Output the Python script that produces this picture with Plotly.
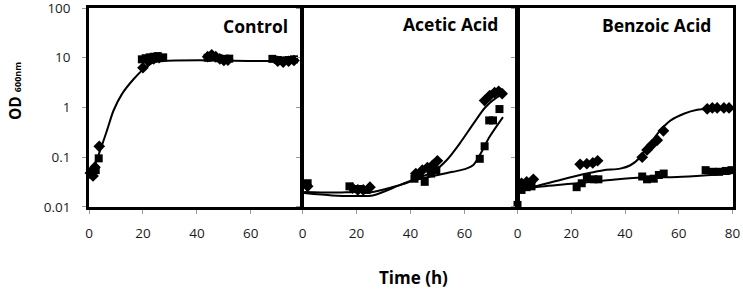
import plotly.graph_objects as go

W, H = 743, 291

# ---------------- data ----------------
# Control
ctrl_sq_t = [0.5, 1.5, 2.5, 3.6, 19.6, 21, 22.5, 24, 25.5, 27.5, 44, 46, 48, 50, 52, 68, 70, 72, 74, 76]
ctrl_sq_od = [0.045, 0.05, 0.055, 0.095, 9.3, 9.8, 10.2, 10.5, 10.8, 10.2, 10.0, 10.3, 9.8, 9.5, 9.6, 9.5, 9.0, 8.8, 9.0, 9.3]
ctrl_di_t = [0.5, 1.5, 2.2, 3.8, 20, 22, 24, 26, 44, 45.5, 47, 48.5, 50, 51.5, 70, 72, 74, 76]
ctrl_di_od = [0.048, 0.042, 0.063, 0.166, 6.3, 8.5, 9.5, 10, 10.5, 11.5, 10.5, 9.5, 8.8, 9.0, 8.5, 8.2, 8.5, 8.8]
ctrl_fit_t = [0.3, 2.3, 4.2, 6.7, 9.1, 12.2, 16.5, 20.2, 24, 28.9, 41, 53.6, 65, 75.8]
ctrl_fit_od = [0.047, 0.074, 0.14, 0.35, 0.87, 1.86, 3.7, 5.9, 8.1, 8.7, 8.9, 8.7, 8.6, 8.5]

# Acetic acid
ac_sq_t = [1.9, 17.4, 19, 21.4, 23.8, 41.5, 43.4, 45.3, 47.7, 49.6, 65.7, 67.5, 69.2, 70.6, 73]
ac_sq_od = [0.030, 0.026, 0.023, 0.023, 0.022, 0.037, 0.044, 0.032, 0.047, 0.055, 0.093, 0.166, 0.55, 0.55, 0.93]
ac_di_t = [1.9, 18.5, 20.5, 22.5, 25, 42, 44.4, 46.3, 48.2, 50, 67.5, 69.4, 71.2, 72.7, 74]
ac_di_od = [0.026, 0.024, 0.022, 0.022, 0.025, 0.047, 0.055, 0.062, 0.069, 0.085, 1.38, 1.74, 2.0, 2.12, 1.9]
ac_fit_di_t = [0.6, 11, 19.8, 26, 36, 42, 48.4, 53.4, 58.3, 63.3, 67.7, 72, 74.5]
ac_fit_di_od = [0.019, 0.017, 0.0166, 0.017, 0.0275, 0.037, 0.051, 0.087, 0.19, 0.47, 1.0, 1.6, 1.86]
ac_fit_sq_t = [0.6, 11, 19.8, 26, 36, 42, 48.4, 55.8, 60.7, 63.2, 65.7, 69.4, 74.3]
ac_fit_sq_od = [0.020, 0.0195, 0.020, 0.020, 0.0275, 0.035, 0.042, 0.051, 0.059, 0.069, 0.11, 0.26, 0.64]

# Benzoic acid
bz_sq_t = [0, 1.5, 3.4, 5.2, 22, 23.9, 25.8, 28.3, 30.1, 46.4, 48.2, 50.7, 52.6, 54.4, 70, 72.5, 75, 77.5, 79.6]
bz_sq_od = [0.011, 0.022, 0.025, 0.026, 0.025, 0.030, 0.039, 0.036, 0.036, 0.041, 0.036, 0.037, 0.044, 0.047, 0.055, 0.051, 0.051, 0.053, 0.055]
bz_di_t = [1.5, 3.4, 5.9, 23.3, 25.8, 28, 29.8, 46.4, 48.2, 50.1, 52, 54.3, 70.6, 72.5, 74.3, 76.8, 78.7]
bz_di_od = [0.030, 0.032, 0.036, 0.072, 0.074, 0.077, 0.085, 0.10, 0.14, 0.18, 0.22, 0.34, 0.94, 0.98, 0.98, 0.98, 0.98]
bz_fit_di_t = [0.3, 6.5, 15.9, 25.8, 32, 38.2, 42, 45.7, 49.4, 53.2, 57, 61.9, 66.9, 71.9, 79.4]
bz_fit_di_od = [0.022, 0.026, 0.035, 0.047, 0.055, 0.059, 0.069, 0.10, 0.19, 0.35, 0.55, 0.75, 0.90, 0.95, 0.97]
bz_fit_sq_t = [0.3, 6.5, 22, 34.5, 47, 59.5, 72, 79.4]
bz_fit_sq_od = [0.022, 0.025, 0.030, 0.035, 0.039, 0.040, 0.044, 0.047]

panel_titles = ["Control", "Acetic Acid", "Benzoic Acid"]
y_tickvals = [0.01, 0.1, 1, 10, 100]
y_ticktext = ["0.01", "0.1", "1", "10", "100"]
x_ticks_1 = [0, 20, 40, 60]
x_ticks_2 = [0, 20, 40, 60]
x_ticks_3 = [0, 20, 40, 60, 80]

# ---------------- figure ----------------
FONT = "Open Sans"
fig = go.Figure()

def markers(t, od, sym, size, xa, ya):
    fig.add_trace(go.Scatter(x=t, y=od, mode="markers", xaxis=xa, yaxis=ya,
                             marker=dict(symbol=sym, size=size, color="black"),
                             cliponaxis=False, showlegend=False, hoverinfo="skip"))

def curve(t, od, xa, ya):
    fig.add_trace(go.Scatter(x=t, y=od, mode="lines", xaxis=xa, yaxis=ya,
                             line=dict(color="black", width=2, shape="spline", smoothing=0.8),
                             showlegend=False, hoverinfo="skip"))

curve(ctrl_fit_t, ctrl_fit_od, "x", "y")
markers(ctrl_sq_t, ctrl_sq_od, "square", 8, "x", "y")
markers(ctrl_di_t, ctrl_di_od, "diamond", 9, "x", "y")

curve(ac_fit_di_t, ac_fit_di_od, "x2", "y2")
curve(ac_fit_sq_t, ac_fit_sq_od, "x2", "y2")
markers(ac_sq_t, ac_sq_od, "square", 8, "x2", "y2")
markers(ac_di_t, ac_di_od, "diamond", 9, "x2", "y2")

curve(bz_fit_di_t, bz_fit_di_od, "x3", "y3")
curve(bz_fit_sq_t, bz_fit_sq_od, "x3", "y3")
markers(bz_sq_t, bz_sq_od, "square", 8, "x3", "y3")
markers(bz_di_t, bz_di_od, "diamond", 9, "x3", "y3")

px = lambda v: v / W
py = lambda v: (H - v) / H

ydom = [py(207), py(8)]
common_x = dict(showline=True, mirror=True, linecolor="black", linewidth=2.5,
                ticks="outside", ticklen=4, tickcolor="#999", tickwidth=1,
                showgrid=False, zeroline=False, automargin=False,
                ticklabeloverflow="allow",
                tickfont=dict(family=FONT, size=13.5, color="#1a1a1a"), ticklabelstandoff=8)
common_y = dict(type="log", range=[-2.0005, 2.0005], domain=ydom, showline=True, mirror=True,
                linecolor="black", linewidth=2.5, ticks="outside", ticklen=4,
                tickcolor="#999", tickwidth=1, showgrid=False, zeroline=False, automargin=False,
                ticklabeloverflow="allow",
                tickvals=y_tickvals, ticktext=y_ticktext,
                tickfont=dict(family=FONT, size=13.5, color="#1a1a1a"), ticklabelstandoff=9)

fig.update_layout(
    width=W, height=H, margin=dict(l=0, r=0, t=0, b=0, autoexpand=False),
    paper_bgcolor="white", plot_bgcolor="white",
    xaxis=dict(common_x, domain=[px(89), px(301)], range=[0, 78.6], tickvals=x_ticks_1, anchor="y"),
    xaxis2=dict(common_x, domain=[px(302.5), px(517)], range=[0, 79.5], tickvals=x_ticks_2, anchor="y2"),
    xaxis3=dict(common_x, domain=[px(517.5), px(732.5)], range=[0, 80], tickvals=x_ticks_3, anchor="y3"),
    yaxis=dict(common_y, anchor="x"),
    yaxis2=dict(common_y, anchor="x2", showticklabels=False),
    yaxis3=dict(common_y, anchor="x3", showticklabels=False),
)

ann = []
for txt, xr, yc in zip(panel_titles, [290, 500, 713], [26, 24, 25]):
    ann.append(dict(text="<b>%s</b>" % txt, xref="paper", yref="paper", x=px(xr), y=py(yc),
                    xanchor="right", yanchor="middle", showarrow=False,
                    font=dict(family=FONT, size=17.5, color="black")))
ann.append(dict(text="<b>Time (h)</b>", xref="paper", yref="paper", x=px(413), y=py(277),
                xanchor="center", yanchor="middle", showarrow=False,
                font=dict(family=FONT, size=17, color="black")))
ann.append(dict(text='<b>OD</b> <span style="font-size:9px"><b>600nm</b></span>',
                xref="paper", yref="paper", x=px(15), y=py(91), textangle=-90,
                xanchor="center", yanchor="middle", showarrow=False,
                font=dict(family=FONT, size=15.5, color="black")))
fig.update_layout(annotations=ann)

fig.write_html("out.html", config={"displayModeBar": False},
               post_script="document.body.style.margin='0';document.body.style.overflow='hidden';")
